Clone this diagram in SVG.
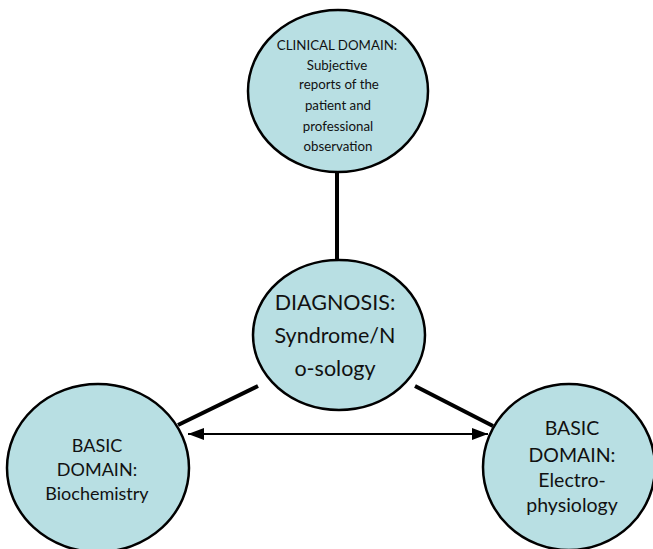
<svg xmlns="http://www.w3.org/2000/svg" width="653" height="549" viewBox="0 0 653 549">
<defs>
<style>
.node{fill:#b8dfe3;stroke:#000;stroke-width:2.5}
.t{font-family:Lato,"Liberation Sans",sans-serif;fill:#111;text-anchor:middle}
.edge{stroke:#000;stroke-width:4;fill:none}
.arr{stroke:#000;stroke-width:1.8;fill:none}
</style>
<marker id="ah2" viewBox="0 0 16 12" refX="16" refY="6" markerWidth="16" markerHeight="12" markerUnits="userSpaceOnUse" orient="auto-start-reverse">
<path d="M0,0 L16,6 L0,12 z" fill="#000"/>
</marker>
</defs>
<rect width="653" height="549" fill="#fff"/>
<g id="connectors">
<line class="edge" x1="337" y1="171" x2="337" y2="261"/>
<line class="edge" x1="258" y1="386" x2="178" y2="425"/>
<line class="edge" x1="415" y1="386" x2="493" y2="426"/>
<line class="arr" x1="188" y1="434" x2="488" y2="434" marker-start="url(#ah2)" marker-end="url(#ah2)"/>
</g>
<g id="clinical">
<ellipse class="node" cx="338" cy="91" rx="90" ry="81"/>
<text class="t" font-size="13.3"><tspan x="337" y="50">CLINICAL DOMAIN:</tspan><tspan x="337" y="70">Subjective</tspan><tspan x="339" y="89">reports of the</tspan><tspan x="338" y="110">patient and</tspan><tspan x="338" y="131">professional</tspan><tspan x="338" y="151">observation</tspan></text>
</g>
<g id="diagnosis">
<ellipse class="node" cx="339" cy="335" rx="86" ry="75"/>
<text class="t" font-size="21.5"><tspan x="335" y="310">DIAGNOSIS:</tspan><tspan x="335" y="343">Syndrome/N</tspan><tspan x="335" y="376">o-sology</tspan></text>
</g>
<g id="biochemistry">
<ellipse class="node" cx="98" cy="468" rx="91" ry="84"/>
<text class="t" font-size="18"><tspan x="97" y="452">BASIC</tspan><tspan x="97" y="476">DOMAIN:</tspan><tspan x="97" y="500">Biochemistry</tspan></text>
</g>
<g id="electrophysiology">
<ellipse class="node" cx="569" cy="467" rx="86" ry="83"/>
<text class="t" font-size="19.5"><tspan x="572" y="435">BASIC</tspan><tspan x="572" y="462">DOMAIN:</tspan><tspan x="572" y="487">Electro-</tspan><tspan x="572" y="512">physiology</tspan></text>
</g>
</svg>
